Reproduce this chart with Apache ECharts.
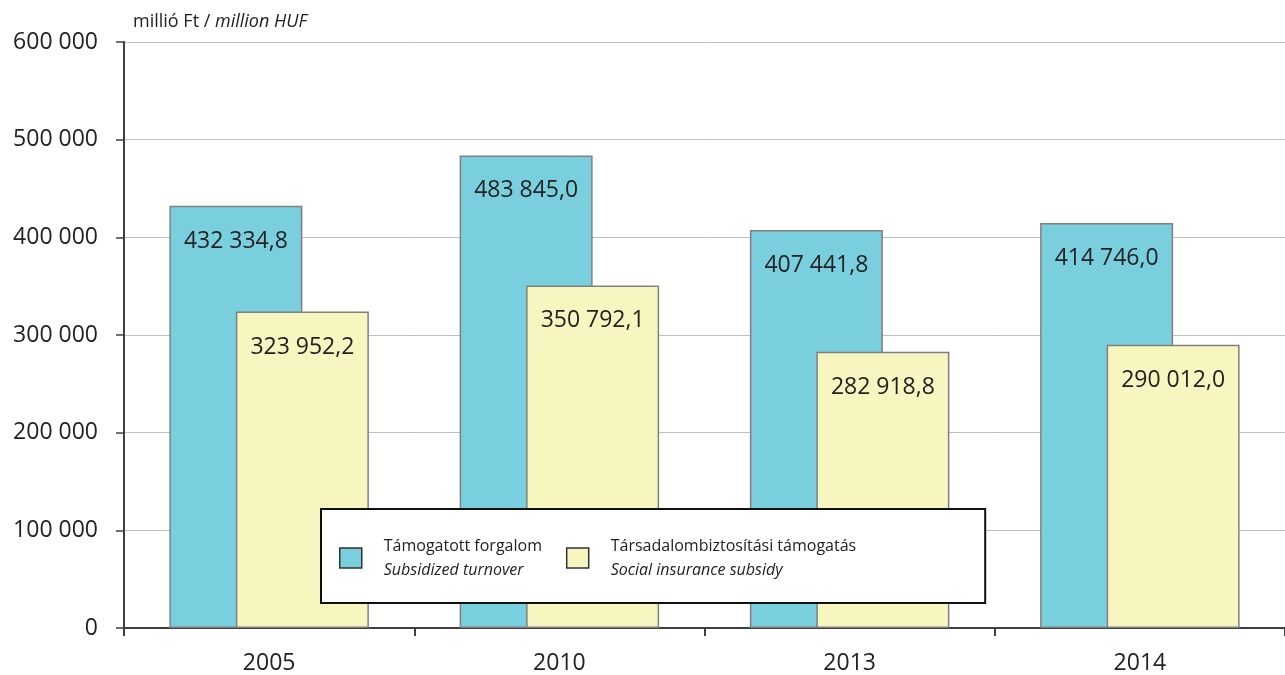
<!DOCTYPE html>
<html>
<head>
    <meta charset="utf-8">
    <title>Támogatott forgalom</title>
    <script src="https://cdn.jsdelivr.net/npm/echarts@6/dist/echarts.min.js"></script>
    <style>
        html, body { margin: 0; padding: 0; background: #fff; }
        #main { width: 1285px; height: 675px; }
    </style>
</head>
<body>
    <div id="main"></div>
    <script type="text/javascript">
        // adatok
        var years = ['2005', '2010', '2013', '2014'];
        var turnover = [432334.8, 483845.0, 407441.8, 414746.0];
        var subsidy = [323952.2, 350792.1, 282918.8, 290012.0];
        var yTicks = [0, 100000, 200000, 300000, 400000, 500000, 600000];
        var nameHu = ['Támogatott forgalom', 'Társadalombiztosítási támogatás'];
        var nameEn = ['Subsidized turnover', 'Social insurance subsidy'];

        var font = '"Open Sans", sans-serif';

        function fmt(v, dec) {
            var s = dec ? v.toFixed(1) : String(Math.round(v));
            var parts = s.split('.');
            var intPart = parts[0].replace(/\B(?=(\d{3})+(?!\d))/g, ' ');
            return parts.length > 1 ? intPart + ',' + parts[1] : intPart;
        }

        var chart = echarts.init(document.getElementById('main'));
        chart.setOption({
            animation: false,
            backgroundColor: '#fff',
            textStyle: { fontFamily: font },
            title: {
                text: '{a|millió Ft / }{b|million HUF}',
                left: 128,
                top: 8,
                textStyle: {
                    fontWeight: 'normal',
                    fontSize: 18,
                    rich: {
                        a: { fontFamily: font, fontSize: 18, color: '#222', fontWeight: 'normal' },
                        b: { fontFamily: font, fontSize: 18, color: '#222', fontWeight: 'normal', fontStyle: 'italic' }
                    }
                }
            },
            grid: {
                left: 124, right: -4, top: 42, bottom: 47
            },
            legend: {
                data: nameHu,
                left: 321,
                top: 509,
                orient: 'horizontal',
                icon: 'rect',
                padding: [29, 129, 25, 18],
                itemGap: 24,
                itemWidth: 22,
                itemHeight: 20,
                itemStyle: { borderColor: '#333', borderWidth: 1.5 },
                backgroundColor: '#fff',
                borderColor: '#111',
                borderWidth: 2,
                borderRadius: 0,
                formatter: function (name) {
                    var i = nameHu.indexOf(name);
                    return '{a|' + nameHu[i] + '}\n{b|' + nameEn[i] + '}';
                },
                textStyle: {
                    fontSize: 16,
                    rich: {
                        a: { fontFamily: font, fontSize: 16, color: '#222', lineHeight: 24, padding: [0, 0, 0, 17] },
                        b: { fontFamily: font, fontSize: 16, color: '#222', lineHeight: 24, padding: [0, 0, 0, 17], fontStyle: 'italic' }
                    }
                }
            },
            xAxis: {
                type: 'category',
                data: years,
                axisLine: { lineStyle: { color: '#404040', width: 2 } },
                axisTick: { show: true, length: 8, lineStyle: { color: '#404040', width: 2 } },
                axisLabel: { fontFamily: font, fontSize: 23, color: '#222', margin: 24 }
            },
            yAxis: {
                type: 'value',
                min: 0,
                max: yTicks[yTicks.length - 1],
                interval: 100000,
                axisLine: { show: true, lineStyle: { color: '#404040', width: 2 } },
                axisTick: { show: true, length: 8, lineStyle: { color: '#404040', width: 1.5 } },
                axisLabel: {
                    fontFamily: font, fontSize: 23, color: '#222', margin: 26,
                    formatter: function (v) { return fmt(v, false); }
                },
                splitLine: { lineStyle: { color: '#c0c0c0', width: 1 } }
            },
            series: [
                {
                    name: nameHu[0],
                    type: 'bar',
                    data: turnover,
                    barWidth: 133,
                    barGap: '-50%',
                    itemStyle: { color: '#7acfdf', borderColor: '#808080', borderWidth: 1.5 },
                    label: {
                        show: true,
                        position: 'insideTop',
                        distance: 24,
                        fontFamily: font,
                        fontSize: 23,
                        color: '#222',
                        formatter: function (p) { return fmt(p.value, true); }
                    }
                },
                {
                    name: nameHu[1],
                    type: 'bar',
                    data: subsidy,
                    barWidth: 133,
                    barGap: '-50%',
                    itemStyle: { color: '#f7f5c0', borderColor: '#808080', borderWidth: 1.5 },
                    label: {
                        show: true,
                        position: 'insideTop',
                        distance: 24,
                        fontFamily: font,
                        fontSize: 23,
                        color: '#222',
                        formatter: function (p) { return fmt(p.value, true); }
                    }
                }
            ]
        });
    </script>
</body>
</html>
